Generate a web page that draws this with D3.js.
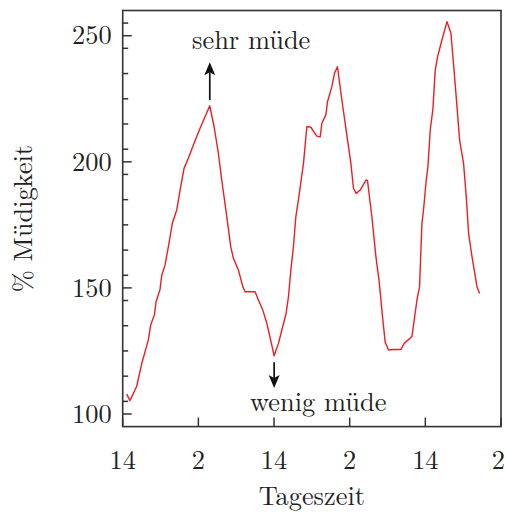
<!DOCTYPE html>
<html><head><meta charset="utf-8">
<script src="https://cdn.jsdelivr.net/npm/d3@7"></script>
<style>body{margin:0;background:#fff}svg{display:block}</style>
</head><body>
<script>
// hours since first 14:00 mark
const hours = [0.63,1.16,2.22,3.02,4.06,4.44,5.02,5.29,5.92,6.19,6.71,7.24,7.87,8.57,9.10,9.73,10.41,11.21,12.27,13.81,
14.49,15.17,15.71,16.51,17.14,17.56,18.35,19.05,19.41,21.0,21.52,22.22,22.86,24.02,24.70,25.24,25.92,26.29,26.67,27.08,
27.46,27.87,28.67,29.21,29.84,30.79,31.32,31.59,32.22,32.48,33.17,33.59,34.06,34.76,35.44,36.19,36.60,37.03,37.67,38.62,
38.83,39.52,40.16,40.68,41.19,41.63,42.16,42.95,44.13,44.65,45.87,46.67,47.08,47.46,47.71,48.14,48.41,48.78,49.21,49.57,
49.94,50.63,51.43,52.06,52.59,53.02,53.43,54.06,54.49,54.86,55.40,56.19,56.60];
const fatigue = [107.9,105.3,111,120,129.3,135.3,139.3,144.5,149.4,155,159,166.3,175.6,180.9,188.8,197.4,201.4,206.7,213.3,222.2,
214,203.4,192.8,178.2,166.3,161.7,157.1,150.5,148.5,148.5,145.2,141.2,136,123.1,128,133.3,139.9,146.5,157.1,166.3,
178.2,184.9,199.4,214,213.7,210.2,209.9,215.3,218.6,223.8,229.8,235.1,237.7,224.5,212.6,199.4,189.5,187.5,188.8,192.8,
192.5,178.2,162.4,152.5,139.0,128.5,125.4,125.6,125.6,128,130.7,145.2,150.5,175.6,180.9,192.8,198.1,212.6,221.2,236.4,
241.7,248.3,255.6,251,235.1,221.9,208.7,199.4,186.2,171.6,162.4,150.5,147.8];
const xTickHours = [0,12,24,36,48,60];
const xTickLabels = ["14","2","14","2","14","2"];
const yMajorTicks = [100,150,200,250];
const yMinorTicks = [105,115,125,135,145,155,165,175,185,195,205,215,225,235,245,255];
const annotations = [
  {text:"sehr müde", textHour:11.0, textValue:244.7, arrowHour:13.81, fromValue:224.5, toValue:239.5},
  {text:"wenig müde", textHour:20.2, textValue:101.2, arrowHour:24.02, fromValue:120.5, toValue:110.3}
];

const W=506,H=514;
const m={l:122.7,r:5,t:10.5,b:87.4};
const svg=d3.select("body").append("svg").attr("width",W).attr("height",H);
const x=d3.scaleLinear().domain([0,60]).range([m.l,W-m.r]);
const y=d3.scaleLinear().domain([95,260]).range([H-m.b,m.t]);
const FF='"Latin Modern Roman", "CMU Serif", serif';
const FS=26.4;
const TXT="#222";
const axisCol="#333";
function styleText(sel){ return sel.style("font-family",FF).style("font-size",FS+"px").attr("fill",TXT); }

// frame
svg.append("rect").attr("x",x(0)).attr("y",y(260)).attr("width",x(60)-x(0)).attr("height",y(95)-y(260))
  .attr("fill","none").attr("stroke",axisCol).attr("stroke-width",1.6);

// y ticks
const gy=svg.append("g");
gy.selectAll("line.maj").data(yMajorTicks).join("line")
  .attr("x1",x(0)).attr("x2",x(0)+9).attr("y1",d=>y(d)).attr("y2",d=>y(d))
  .attr("stroke",axisCol).attr("stroke-width",1.5);
gy.selectAll("line.min").data(yMinorTicks).join("line").attr("class","min")
  .attr("x1",x(0)).attr("x2",x(0)+5.5).attr("y1",d=>y(d)).attr("y2",d=>y(d))
  .attr("stroke",axisCol).attr("stroke-width",1.5);
styleText(gy.selectAll("text").data(yMajorTicks).join("text")
  .attr("x",x(0)-11).attr("y",d=>y(d)).attr("dy","0.33em").attr("text-anchor","end")).text(d=>d);

// x ticks
const gx=svg.append("g");
gx.selectAll("line").data(xTickHours).join("line")
  .attr("x1",d=>x(d)).attr("x2",d=>x(d)).attr("y1",y(95)).attr("y2",y(95)-9)
  .attr("stroke",axisCol).attr("stroke-width",1.5);
styleText(gx.selectAll("text").data(xTickHours).join("text")
  .attr("x",d=>x(d)).attr("y",y(95)+42).attr("text-anchor","middle")).text((d,i)=>xTickLabels[i])
  .each(function(){
    const w=this.getComputedTextLength();
    const cx=+this.getAttribute("x");
    if(cx+w/2>W-1) this.setAttribute("x",W-1-w/2);
  });

// axis titles
styleText(svg.append("text").attr("x",(x(0)+x(60))/2).attr("y",505).attr("text-anchor","middle")).text("Tageszeit");
styleText(svg.append("text").attr("transform",`translate(32,${(y(95)+y(260))/2}) rotate(-90)`).attr("text-anchor","middle")).text("% Müdigkeit");

// line
const pts=hours.map((h,i)=>[h,fatigue[i]]);
svg.append("path").datum(pts)
  .attr("d",d3.line().x(d=>x(d[0])).y(d=>y(d[1])))
  .attr("fill","none").attr("stroke","#ee1c25").attr("stroke-width",1.4).attr("stroke-linejoin","round");

// annotations
annotations.forEach(a=>{
  const up = a.toValue>a.fromValue;
  svg.append("line").attr("x1",x(a.arrowHour)).attr("x2",x(a.arrowHour))
    .attr("y1",y(a.fromValue)).attr("y2",y(a.toValue)+(up?10:-10))
    .attr("stroke","#111").attr("stroke-width",1.7);
  svg.append("path")
    .attr("d", up ? `M${x(a.arrowHour)},${y(a.toValue)} l-5.5,13 l5.5,-3 l5.5,3 Z`
                  : `M${x(a.arrowHour)},${y(a.toValue)} l-5.5,-13 l5.5,3 l5.5,-3 Z`)
    .attr("fill","#111");
  styleText(svg.append("text").attr("x",x(a.textHour)).attr("y",y(a.textValue))).text(a.text);
});
</script>
</body></html>
